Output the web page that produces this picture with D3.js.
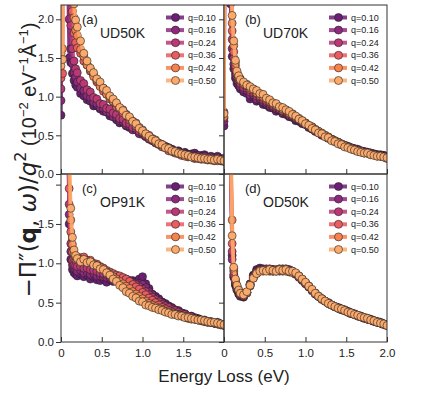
<!DOCTYPE html>
<head>
<meta charset="utf-8">
<title>loss function panels</title>
<script src="https://d3js.org/d3.v7.min.js"></script>
<style>
    body { margin: 0; background: white; }
    text { font-family: 'Liberation Sans', Arial, sans-serif; fill: #222; }
    .tick line { stroke: #333; }
</style>
</head>
<body>
<script>
//DATA
var energy = [0, 0.02, 0.04, 0.06, 0.08, 0.10, 0.12, 0.14, 0.16, 0.18,
    0.20, 0.24, 0.28, 0.32, 0.36, 0.40, 0.44, 0.48, 0.52, 0.56,
    0.60, 0.64, 0.68, 0.72, 0.76, 0.80, 0.84, 0.88, 0.92, 0.96,
    1.00, 1.04, 1.08, 1.12, 1.16, 1.20, 1.24, 1.28, 1.32, 1.36,
    1.40, 1.44, 1.48, 1.52, 1.56, 1.60, 1.64, 1.68, 1.72, 1.76,
    1.80, 1.84, 1.88, 1.92, 1.96, 2.00];

var qLabels = ['q=0.10', 'q=0.16', 'q=0.24', 'q=0.36', 'q=0.42', 'q=0.50'];
var qColors = ['#6b1e74', '#8e2a7e', '#bb3877', '#e95c60', '#f6834f', '#fcaa6b'];
var panelTags = ['(a)', '(b)', '(c)', '(d)'];
var panelNames = ['UD50K', 'UD70K', 'OP91K', 'OD50K'];
var yTicks = [0, 0.5, 1, 1.5, 2];
var xTicks = [0, 0.5, 1, 1.5, 2];

// (a) UD50K
var a10 = [0.76, 4.8, 9.0, 7.2, 2.9, 1.50, 1.44, 1.30, 1.21, 1.15,
    1.12, 1.04, 1.01, 0.96, 0.94, 0.88, 0.88, 0.84, 0.81, 0.80,
    0.75, 0.74, 0.70, 0.66, 0.67, 0.62, 0.60, 0.58, 0.57, 0.53,
    0.52, 0.48, 0.47, 0.43, 0.42, 0.38, 0.38, 0.35, 0.34, 0.32,
    0.30, 0.30, 0.27, 0.28, 0.25, 0.26, 0.27, 0.24, 0.24, 0.25,
    0.22, 0.23, 0.21, 0.23, 0.20, 0.19];
var a16 = [0.95, 5.0, 9.5, 7.6, 3.5, 2.0, 1.62, 1.43, 1.31, 1.25,
    1.19, 1.11, 1.08, 1.01, 0.99, 0.93, 0.91, 0.86, 0.85, 0.80,
    0.79, 0.74, 0.73, 0.69, 0.68, 0.63, 0.62, 0.57, 0.57, 0.52,
    0.51, 0.50, 0.45, 0.44, 0.40, 0.40, 0.36, 0.36, 0.32, 0.32,
    0.29, 0.29, 0.26, 0.27, 0.25, 0.25, 0.23, 0.24, 0.22, 0.23,
    0.21, 0.22, 0.20, 0.21, 0.19, 0.20];
var a24 = [1.10, 5.2, 10.0, 8.2, 4.4, 2.6, 1.92, 1.62, 1.46, 1.36,
    1.31, 1.21, 1.17, 1.09, 1.06, 0.99, 0.97, 0.91, 0.90, 0.85,
    0.84, 0.79, 0.77, 0.72, 0.71, 0.66, 0.65, 0.60, 0.59, 0.55,
    0.53, 0.49, 0.48, 0.44, 0.42, 0.39, 0.38, 0.34, 0.34, 0.31,
    0.29, 0.28, 0.27, 0.25, 0.25, 0.23, 0.23, 0.22, 0.22, 0.20,
    0.21, 0.19, 0.20, 0.19, 0.18, 0.18];
var a36 = [1.24, 1.30, 10.5, 9.1, 6.0, 3.8, 2.7, 2.10, 1.82, 1.70,
    1.63, 1.56, 1.46, 1.41, 1.33, 1.28, 1.19, 1.14, 1.07, 1.03,
    0.97, 0.94, 0.87, 0.85, 0.79, 0.77, 0.70, 0.68, 0.62, 0.60,
    0.54, 0.52, 0.47, 0.46, 0.41, 0.39, 0.35, 0.35, 0.30, 0.30,
    0.27, 0.27, 0.24, 0.25, 0.22, 0.23, 0.20, 0.21, 0.19, 0.20,
    0.18, 0.19, 0.17, 0.18, 0.17, 0.16];
var a42 = [1.56, 1.62, 11.0, 10.2, 7.1, 4.4, 3.1, 2.40, 2.02, 1.86,
    1.79, 1.61, 1.52, 1.41, 1.35, 1.26, 1.21, 1.13, 1.11, 1.03,
    1.00, 0.94, 0.91, 0.85, 0.83, 0.77, 0.73, 0.68, 0.66, 0.60,
    0.57, 0.51, 0.50, 0.45, 0.44, 0.39, 0.37, 0.34, 0.33, 0.29,
    0.29, 0.26, 0.26, 0.23, 0.23, 0.22, 0.21, 0.20, 0.21, 0.19,
    0.20, 0.18, 0.19, 0.17, 0.18, 0.17];
var a50 = [1.40, 1.48, 12.0, 11.2, 8.0, 5.0, 3.6, 2.70, 2.20, 1.99,
    1.90, 1.72, 1.56, 1.46, 1.37, 1.31, 1.23, 1.19, 1.11, 1.08,
    1.01, 0.97, 0.92, 0.86, 0.82, 0.76, 0.74, 0.68, 0.65, 0.59,
    0.56, 0.52, 0.49, 0.45, 0.43, 0.39, 0.38, 0.34, 0.33, 0.30,
    0.29, 0.27, 0.26, 0.25, 0.24, 0.22, 0.22, 0.21, 0.20, 0.20,
    0.19, 0.19, 0.18, 0.19, 0.18, 0.17];

// (b) UD70K
var b10 = [0.62, 6.0, 8.0, 4.6, 2.2, 1.52, 1.36, 1.24, 1.17, 1.14,
    1.10, 1.06, 1.04, 0.97, 0.99, 0.94, 0.95, 0.90, 0.89, 0.86,
    0.85, 0.81, 0.82, 0.78, 0.77, 0.74, 0.73, 0.69, 0.68, 0.65,
    0.64, 0.60, 0.58, 0.55, 0.53, 0.50, 0.49, 0.46, 0.45, 0.42,
    0.41, 0.38, 0.37, 0.35, 0.34, 0.32, 0.32, 0.30, 0.29, 0.28,
    0.27, 0.26, 0.25, 0.25, 0.24, 0.22];
var b16 = [0.68, 6.5, 8.6, 5.0, 2.5, 1.62, 1.42, 1.29, 1.21, 1.17,
    1.13, 1.09, 1.08, 1.02, 1.02, 0.97, 0.97, 0.93, 0.91, 0.88,
    0.86, 0.84, 0.83, 0.79, 0.79, 0.75, 0.74, 0.71, 0.69, 0.66,
    0.64, 0.61, 0.59, 0.56, 0.54, 0.51, 0.49, 0.47, 0.45, 0.43,
    0.41, 0.39, 0.37, 0.36, 0.34, 0.33, 0.31, 0.30, 0.29, 0.28,
    0.27, 0.26, 0.25, 0.24, 0.24, 0.22];
var b24 = [0.72, 7.0, 9.0, 5.4, 2.8, 1.74, 1.50, 1.34, 1.25, 1.20,
    1.17, 1.12, 1.11, 1.06, 1.05, 1.01, 0.99, 0.96, 0.93, 0.91,
    0.88, 0.86, 0.84, 0.81, 0.80, 0.77, 0.75, 0.72, 0.70, 0.67,
    0.65, 0.62, 0.60, 0.57, 0.54, 0.52, 0.49, 0.47, 0.45, 0.42,
    0.41, 0.38, 0.37, 0.35, 0.33, 0.32, 0.31, 0.29, 0.28, 0.27,
    0.27, 0.25, 0.24, 0.24, 0.23, 0.21];
var b36 = [0.80, 7.5, 9.5, 5.8, 3.0, 1.85, 1.58, 1.40, 1.29, 1.23,
    1.21, 1.16, 1.14, 1.09, 1.08, 1.04, 1.01, 0.99, 0.95, 0.93,
    0.90, 0.88, 0.86, 0.82, 0.82, 0.78, 0.77, 0.73, 0.71, 0.68,
    0.66, 0.62, 0.61, 0.57, 0.55, 0.52, 0.50, 0.47, 0.45, 0.43,
    0.40, 0.39, 0.36, 0.35, 0.33, 0.32, 0.30, 0.29, 0.28, 0.27,
    0.26, 0.25, 0.24, 0.23, 0.22, 0.21];
var b42 = [0.74, 8.0, 10.0, 6.2, 3.2, 1.95, 1.66, 1.44, 1.31, 1.25,
    1.23, 1.17, 1.16, 1.11, 1.10, 1.05, 1.04, 1.00, 0.97, 0.94,
    0.92, 0.89, 0.87, 0.84, 0.83, 0.79, 0.78, 0.74, 0.72, 0.69,
    0.66, 0.63, 0.61, 0.58, 0.55, 0.53, 0.50, 0.48, 0.45, 0.43,
    0.41, 0.38, 0.37, 0.35, 0.33, 0.31, 0.30, 0.29, 0.27, 0.27,
    0.25, 0.25, 0.23, 0.23, 0.22, 0.20];
var b50 = [0.78, 8.5, 10.5, 6.5, 3.4, 2.05, 1.72, 1.47, 1.33, 1.27,
    1.22, 1.19, 1.15, 1.13, 1.10, 1.08, 1.04, 1.03, 0.98, 0.96,
    0.92, 0.91, 0.87, 0.86, 0.83, 0.81, 0.77, 0.75, 0.71, 0.69,
    0.65, 0.63, 0.59, 0.57, 0.53, 0.52, 0.48, 0.47, 0.43, 0.42,
    0.39, 0.38, 0.35, 0.34, 0.32, 0.31, 0.29, 0.28, 0.27, 0.27,
    0.25, 0.24, 0.23, 0.23, 0.22, 0.21];

// (c) OP91K
var c10 = [3.2, 7.0, 9.0, 6.0, 3.0, 1.50, 1.05, 0.92, 0.88, 0.86,
    0.84, 0.86, 0.83, 0.85, 0.80, 0.83, 0.79, 0.78, 0.80, 0.76,
    0.79, 0.77, 0.81, 0.78, 0.80, 0.79, 0.77, 0.78, 0.76, 0.80,
    0.83, 0.74, 0.68, 0.61, 0.58, 0.55, 0.51, 0.49, 0.46, 0.44,
    0.41, 0.40, 0.37, 0.36, 0.33, 0.33, 0.30, 0.30, 0.28, 0.28,
    0.26, 0.26, 0.24, 0.25, 0.23, 0.22];
var c16 = [3.4, 7.4, 9.4, 6.4, 3.3, 1.62, 1.15, 0.98, 0.93, 0.92,
    0.90, 0.91, 0.88, 0.89, 0.86, 0.87, 0.84, 0.84, 0.83, 0.82,
    0.82, 0.81, 0.82, 0.80, 0.80, 0.79, 0.78, 0.76, 0.75, 0.74,
    0.73, 0.69, 0.64, 0.60, 0.56, 0.53, 0.50, 0.47, 0.45, 0.43,
    0.40, 0.39, 0.37, 0.35, 0.33, 0.32, 0.31, 0.29, 0.28, 0.27,
    0.26, 0.25, 0.24, 0.24, 0.23, 0.22];
var c24 = [3.6, 7.8, 9.8, 6.8, 3.6, 1.75, 1.25, 1.04, 0.98, 0.97,
    0.96, 0.96, 0.94, 0.94, 0.92, 0.91, 0.90, 0.88, 0.87, 0.86,
    0.85, 0.84, 0.84, 0.82, 0.81, 0.80, 0.78, 0.75, 0.73, 0.70,
    0.67, 0.64, 0.60, 0.57, 0.54, 0.51, 0.48, 0.46, 0.44, 0.41,
    0.40, 0.38, 0.36, 0.35, 0.33, 0.32, 0.30, 0.29, 0.28, 0.27,
    0.26, 0.25, 0.24, 0.23, 0.22, 0.21];
var c36 = [3.8, 8.2, 10.2, 7.2, 4.0, 1.95, 1.40, 1.14, 1.06, 1.05,
    1.08, 1.07, 1.08, 1.04, 1.04, 1.00, 0.99, 0.96, 0.94, 0.91,
    0.89, 0.87, 0.85, 0.84, 0.82, 0.80, 0.77, 0.73, 0.70, 0.67,
    0.63, 0.60, 0.56, 0.53, 0.50, 0.47, 0.44, 0.42, 0.40, 0.38,
    0.36, 0.35, 0.33, 0.32, 0.31, 0.30, 0.29, 0.28, 0.27, 0.26,
    0.25, 0.25, 0.24, 0.23, 0.22, 0.21];
var c42 = [4.0, 8.6, 10.6, 7.6, 4.4, 2.2, 1.55, 1.24, 1.12, 1.08,
    1.06, 1.05, 1.04, 1.03, 1.01, 0.99, 0.97, 0.95, 0.92, 0.89,
    0.86, 0.83, 0.80, 0.77, 0.74, 0.71, 0.68, 0.64, 0.61, 0.58,
    0.55, 0.52, 0.49, 0.47, 0.45, 0.43, 0.41, 0.39, 0.38, 0.36,
    0.35, 0.34, 0.33, 0.32, 0.30, 0.29, 0.29, 0.28, 0.27, 0.26,
    0.25, 0.25, 0.24, 0.23, 0.22, 0.22];
var c50 = [4.2, 9.0, 11.0, 8.0, 4.8, 2.5, 1.70, 1.33, 1.17, 1.10,
    1.06, 1.02, 1.05, 1.01, 1.02, 0.98, 0.97, 0.93, 0.92, 0.88,
    0.85, 0.80, 0.77, 0.72, 0.69, 0.64, 0.62, 0.58, 0.56, 0.52,
    0.51, 0.47, 0.46, 0.44, 0.43, 0.41, 0.40, 0.38, 0.37, 0.35,
    0.35, 0.33, 0.33, 0.31, 0.31, 0.30, 0.29, 0.28, 0.28, 0.27,
    0.26, 0.25, 0.25, 0.24, 0.23, 0.22];

// (d) OD50K
var d10 = [4.0, 8.0, 9.0, 5.0, 2.4, 1.10, 0.82, 0.72, 0.66, 0.61,
    0.58, 0.57, 0.63, 0.74, 0.85, 0.92, 0.94, 0.93, 0.92, 0.93,
    0.92, 0.91, 0.93, 0.92, 0.93, 0.91, 0.90, 0.87, 0.83, 0.79,
    0.75, 0.71, 0.66, 0.62, 0.58, 0.55, 0.52, 0.50, 0.47, 0.45,
    0.44, 0.42, 0.41, 0.39, 0.37, 0.36, 0.34, 0.33, 0.31, 0.30,
    0.29, 0.27, 0.26, 0.25, 0.23, 0.22];
var d16 = [4.1, 8.2, 9.4, 5.2, 2.5, 1.05, 0.84, 0.74, 0.67, 0.63,
    0.59, 0.58, 0.62, 0.73, 0.84, 0.90, 0.92, 0.92, 0.93, 0.91,
    0.92, 0.90, 0.92, 0.93, 0.91, 0.92, 0.89, 0.86, 0.83, 0.78,
    0.74, 0.70, 0.66, 0.61, 0.58, 0.55, 0.52, 0.49, 0.47, 0.45,
    0.43, 0.42, 0.40, 0.38, 0.37, 0.35, 0.34, 0.32, 0.31, 0.29,
    0.28, 0.27, 0.25, 0.24, 0.23, 0.22];
var d24 = [4.2, 8.4, 9.8, 5.4, 2.6, 1.15, 0.86, 0.75, 0.68, 0.64,
    0.60, 0.58, 0.63, 0.73, 0.83, 0.89, 0.91, 0.92, 0.91, 0.92,
    0.90, 0.91, 0.91, 0.90, 0.92, 0.90, 0.89, 0.86, 0.82, 0.79,
    0.74, 0.70, 0.65, 0.61, 0.58, 0.54, 0.52, 0.49, 0.47, 0.45,
    0.43, 0.41, 0.40, 0.38, 0.36, 0.35, 0.33, 0.32, 0.30, 0.29,
    0.28, 0.26, 0.25, 0.24, 0.23, 0.21];
var d36 = [4.3, 8.6, 10.2, 5.6, 2.7, 1.25, 0.90, 0.77, 0.70, 0.65,
    0.61, 0.59, 0.63, 0.72, 0.82, 0.88, 0.90, 0.91, 0.92, 0.90,
    0.91, 0.92, 0.90, 0.91, 0.91, 0.89, 0.89, 0.87, 0.83, 0.79,
    0.75, 0.70, 0.66, 0.62, 0.58, 0.55, 0.52, 0.50, 0.47, 0.45,
    0.43, 0.41, 0.40, 0.38, 0.36, 0.35, 0.34, 0.32, 0.31, 0.29,
    0.28, 0.27, 0.25, 0.24, 0.22, 0.21];
var d42 = [4.4, 8.8, 10.6, 5.8, 2.8, 1.55, 0.93, 0.79, 0.71, 0.66,
    0.62, 0.60, 0.63, 0.71, 0.81, 0.87, 0.91, 0.90, 0.91, 0.91,
    0.90, 0.91, 0.91, 0.92, 0.90, 0.90, 0.88, 0.87, 0.84, 0.80,
    0.75, 0.71, 0.66, 0.62, 0.58, 0.55, 0.52, 0.49, 0.47, 0.45,
    0.43, 0.42, 0.40, 0.38, 0.37, 0.35, 0.33, 0.32, 0.31, 0.30,
    0.28, 0.27, 0.26, 0.24, 0.23, 0.21];
var d50 = [4.4, 9.0, 11.0, 6.0, 2.8, 1.35, 0.95, 0.80, 0.72, 0.66,
    0.62, 0.60, 0.64, 0.72, 0.81, 0.87, 0.90, 0.91, 0.90, 0.92,
    0.91, 0.90, 0.92, 0.91, 0.92, 0.90, 0.90, 0.88, 0.84, 0.80,
    0.76, 0.71, 0.67, 0.62, 0.58, 0.55, 0.52, 0.49, 0.47, 0.45,
    0.43, 0.42, 0.40, 0.38, 0.37, 0.35, 0.34, 0.32, 0.31, 0.30,
    0.28, 0.27, 0.25, 0.24, 0.23, 0.21];

var panelSeries = [
    [a10, a16, a24, a36, a42, a50],
    [b10, b16, b24, b36, b42, b50],
    [c10, c16, c24, c36, c42, c50],
    [d10, d16, d24, d36, d42, d50]
];

//LAYOUT
var left = 61, pw = 163;
var rows = [ {top: 5, bottom: 174, ymax: 2.185}, {top: 174, bottom: 342, ymax: 2.135} ];

var svg = d3.select('body').append('svg')
    .attr('width', 436)
    .attr('height', 396);

var fmt1 = d3.format('.1f');

panelSeries.forEach(function(series, p) {
    var col = p % 2, row = Math.floor(p / 2), r = rows[row];
    var ph = r.bottom - r.top;
    var x = d3.scaleLinear().domain([0, 2]).range([0, pw]);
    var y = d3.scaleLinear().domain([0, r.ymax]).range([ph, 0]);

    var g = svg.append('g').attr('transform', 'translate(' + (left + col * pw) + ',' + r.top + ')');

    svg.append('clipPath').attr('id', 'clip' + p)
        .append('rect').attr('width', pw).attr('height', ph);

    // axes
    var yAxis = d3.axisLeft(y).tickValues(yTicks).tickSize(5).tickPadding(2)
        .tickFormat(d => (col == 1 || (row == 1 && d == 2)) ? '' : fmt1(d));
    g.append('g').call(yAxis).call(a => a.select('.domain').remove())
        .selectAll('text').style('font-size', '11.5px').style('font-family', "'Liberation Sans', Arial, sans-serif");

    var xAxis = d3.axisBottom(x).tickValues(xTicks).tickSizeInner(-5).tickSizeOuter(0).tickPadding(7)
        .tickFormat(d => (row == 0 || (col == 0 && d == 2)) ? '' : (d == 0 ? '0' : fmt1(d)));
    g.append('g').attr('transform', 'translate(0,' + ph + ')').call(xAxis)
        .call(a => a.select('.domain').remove())
        .selectAll('text').style('font-size', '11.5px').style('font-family', "'Liberation Sans', Arial, sans-serif");

    // data
    var plot = g.append('g').attr('clip-path', 'url(#clip' + p + ')');
    var line = d3.line().x((d, i) => x(energy[i])).y(d => y(d));

    series.forEach(function(vals, s) {
        var sg = plot.append('g');
        sg.append('path').attr('d', line(vals))
            .attr('fill', 'none').attr('stroke', qColors[s])
            .attr('stroke-width', 3.5).attr('stroke-opacity', 0.85);
        sg.selectAll('circle').data(vals).enter().append('circle')
            .attr('cx', (d, i) => x(energy[i]))
            .attr('cy', d => y(d))
            .attr('r', 4)
            .attr('fill', qColors[s])
            .attr('stroke', '#222').attr('stroke-width', 0.6);
    });

    // frame
    g.append('rect').attr('width', pw).attr('height', ph)
        .attr('fill', 'none').attr('stroke', '#333').attr('stroke-width', 1);

    // legend
    var lg = g.append('g');
    qLabels.forEach(function(lab, s) {
        var ly = 12.5 + s * 12.6;
        lg.append('line').attr('x1', 105).attr('x2', 123).attr('y1', ly).attr('y2', ly)
            .attr('stroke', qColors[s]).attr('stroke-width', 4).attr('stroke-opacity', 0.85);
        lg.append('circle').attr('cx', 114.5).attr('cy', ly).attr('r', 4)
            .attr('fill', qColors[s]).attr('stroke', '#222').attr('stroke-width', 0.6);
        lg.append('text').attr('x', 127).attr('y', ly).attr('dy', '0.35em')
            .style('font-size', '9px').text(lab);
    });

    g.append('text').attr('x', 21).attr('y', 19).style('font-size', '13px').text(panelTags[p]);
    g.append('text').attr('x', 39).attr('y', 33).style('font-size', '14px').text(panelNames[p]);
});

// axis titles
svg.append('text').attr('x', 224).attr('y', 382).attr('text-anchor', 'middle')
    .style('font-size', '17px').text('Energy Loss (eV)');

var yl = svg.append('text')
    .attr('transform', 'translate(36,160) rotate(-90)')
    .attr('text-anchor', 'middle');
var mth = "'DejaVu Sans', sans-serif";
yl.append('tspan').style('font-family', mth).style('font-size', '23px').text('\u2212\u03A0\u2033(');
yl.append('tspan').style('font-family', mth).style('font-size', '23px').style('font-weight', 'bold').text('q');
yl.append('tspan').style('font-family', mth).style('font-size', '23px').text(', ');
yl.append('tspan').style('font-family', mth).style('font-size', '23px').style('font-style', 'italic').text('\u03C9');
yl.append('tspan').style('font-family', mth).style('font-size', '23px').text(')/');
yl.append('tspan').style('font-family', mth).style('font-size', '23px').style('font-style', 'italic').text('q');
yl.append('tspan').style('font-family', mth).style('font-size', '16px').attr('dy', -10).text('2');
yl.append('tspan').style('font-size', '20px').attr('dy', 10).text('\u00A0(10');
yl.append('tspan').style('font-size', '13px').attr('dy', -8).text('\u22122');
yl.append('tspan').style('font-size', '20px').attr('dy', 8).text('\u00A0eV');
yl.append('tspan').style('font-size', '13px').attr('dy', -8).text('\u22121');
yl.append('tspan').style('font-size', '20px').attr('dy', 8).text('\u00C5');
yl.append('tspan').style('font-size', '13px').attr('dy', -8).text('\u22121');
yl.append('tspan').style('font-size', '20px').attr('dy', 8).text(')');
</script>
</body>
